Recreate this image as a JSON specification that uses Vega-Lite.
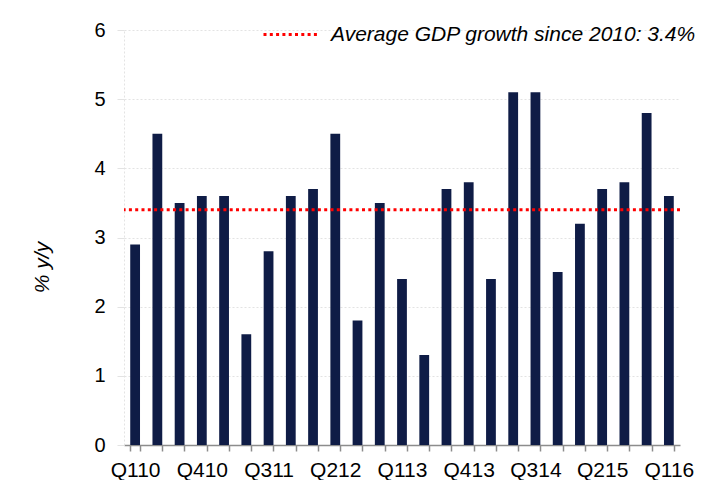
{
  "$schema": "https://vega.github.io/schema/vega-lite/v6.json",
  "width": 556,
  "height": 415,
  "autosize": {"type": "none"},
  "padding": {"left": 124, "top": 30, "right": 35, "bottom": 35},
  "background": "white",
  "config": {
    "font": "Liberation Sans",
    "view": {"stroke": null},
    "axis": {"labelColor": "#000000", "titleColor": "#000000"}
  },
  "data": {
    "values": [
      {"quarter": "Q110", "gdp": 2.9},
      {"quarter": "Q210", "gdp": 4.5},
      {"quarter": "Q310", "gdp": 3.5},
      {"quarter": "Q410", "gdp": 3.6},
      {"quarter": "Q111", "gdp": 3.6},
      {"quarter": "Q211", "gdp": 1.6},
      {"quarter": "Q311", "gdp": 2.8},
      {"quarter": "Q411", "gdp": 3.6},
      {"quarter": "Q112", "gdp": 3.7},
      {"quarter": "Q212", "gdp": 4.5},
      {"quarter": "Q312", "gdp": 1.8},
      {"quarter": "Q412", "gdp": 3.5},
      {"quarter": "Q113", "gdp": 2.4},
      {"quarter": "Q213", "gdp": 1.3},
      {"quarter": "Q313", "gdp": 3.7},
      {"quarter": "Q413", "gdp": 3.8},
      {"quarter": "Q114", "gdp": 2.4},
      {"quarter": "Q214", "gdp": 5.1},
      {"quarter": "Q314", "gdp": 5.1},
      {"quarter": "Q414", "gdp": 2.5},
      {"quarter": "Q115", "gdp": 3.2},
      {"quarter": "Q215", "gdp": 3.7},
      {"quarter": "Q315", "gdp": 3.8},
      {"quarter": "Q415", "gdp": 4.8},
      {"quarter": "Q116", "gdp": 3.6}
    ]
  },
  "layer": [
    {
      "mark": {"type": "bar", "color": "#0f1c46"},
      "encoding": {
        "x": {
          "field": "quarter",
          "type": "nominal",
          "sort": null,
          "scale": {"paddingInner": 0.56, "paddingOuter": 0.28},
          "axis": {
            "title": null,
            "labelAngle": 0,
            "labelFontSize": 21,
            "labelExpr": "indexof(['Q110','Q410','Q311','Q212','Q113','Q413','Q314','Q215','Q116'], datum.label) >= 0 ? datum.label : ''",
            "labelPadding": 8,
            "domainColor": "#8c8c8c",
            "domainWidth": 1.5,
            "tickColor": "#8c8c8c",
            "tickWidth": 1.5,
            "tickSize": 6,
            "tickBand": "extent",
            "grid": false
          }
        },
        "y": {
          "field": "gdp",
          "type": "quantitative",
          "scale": {"domain": [0, 6], "nice": false},
          "axis": {
            "title": "% y/y",
            "titleFontSize": 21,
            "titleFontWeight": "normal",
            "titleFontStyle": "italic",
            "titleX": -72,
            "titleY": 237,
            "values": [0, 1, 2, 3, 4, 5, 6],
            "format": "d",
            "labelFontSize": 20,
            "labelPadding": 12,
            "domainColor": "#e3e3e3",
            "domainDash": [2, 2],
            "tickColor": "#e3e3e3",
            "tickSize": 7,
            "grid": true,
            "gridColor": "#e3e3e3",
            "gridDash": [2, 2]
          }
        }
      }
    },
    {
      "mark": {"type": "rule", "strokeWidth": 3, "strokeDash": [3, 3.3]},
      "encoding": {
        "y": {"aggregate": "mean", "field": "gdp", "type": "quantitative"},
        "color": {
          "datum": "Average GDP growth since 2010: 3.4%",
          "scale": {"range": ["#ff0000"]},
          "legend": {
            "title": null,
            "orient": "none",
            "legendX": 138,
            "legendY": -25,
            "symbolType": "stroke",
            "symbolSize": 3136,
            "symbolStrokeWidth": 3,
            "symbolDash": [3, 3.3],
            "labelFontSize": 21,
            "labelFontStyle": "italic",
            "labelColor": "#000000",
            "labelOffset": 10,
            "labelLimit": 0
          }
        }
      }
    }
  ]
}
